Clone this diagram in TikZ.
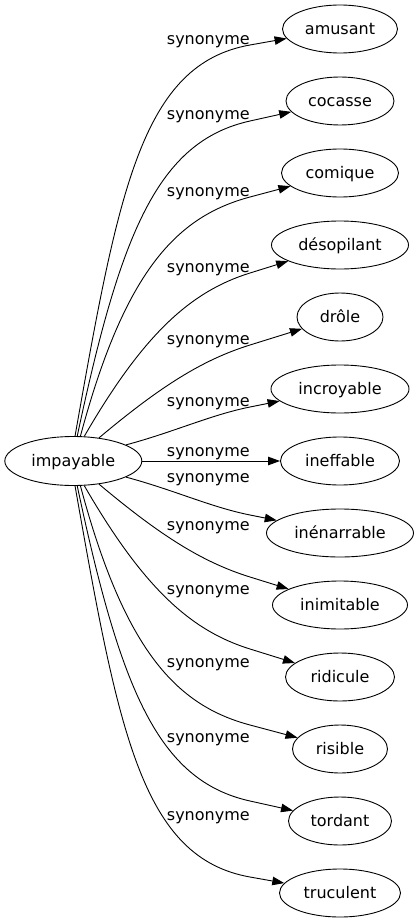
\documentclass[tikz,border=0pt]{standalone}
\usepackage{fontspec}
\setmainfont{DejaVu Sans}
\usetikzlibrary{shapes.geometric,arrows.meta,calc}
\newcommand\synedge[6]{%
  \coordinate (s) at (impayable.#2);
  \coordinate (m) at (250,#5);
  \coordinate (p1) at ($(s)+({#4*cos(#3)},{-#4*sin(#3)})$);
  \coordinate (p2) at ($(m)!-#6pt!(#1.center)$);
  \draw[edge] (s) .. controls (p1) and (p2) .. (m) -- (#1);
}
\begin{document}
\begin{tikzpicture}[x=1pt,y=-1pt,
  word/.style={draw=black, line width=0.9pt, ellipse, inner sep=0pt,
    minimum height=48pt, font=\fontsize{16pt}{19pt}\selectfont,
    text height=15pt, text depth=4pt},
  lbl/.style={anchor=base, inner sep=0pt, font=\fontsize{16pt}{19pt}\selectfont},
  edge/.style={draw=black, line width=0.9pt, -{Triangle[length=12pt,width=8.5pt]}}]
\useasboundingbox (0,0) rectangle (419,923);
\node[word, minimum width=137pt, minimum height=49pt] (impayable) at (73.3,461) {impayable};
\node[word, minimum width=115pt] (amusant) at (340,29) {amusant};
\node[word, minimum width=108pt] (cocasse) at (340,101) {cocasse};
\node[word, minimum width=117pt] (comique) at (340,173) {comique};
\node[word, minimum width=137pt] (desopilant) at (340,245) {désopilant};
\node[word, minimum width=86pt] (drole) at (340,317) {drôle};
\node[word, minimum width=138pt] (incroyable) at (340,389) {incroyable};
\node[word, minimum width=119pt] (ineffable) at (340,461) {ineffable};
\node[word, minimum width=147pt] (inenarrable) at (340,533) {inénarrable};
\node[word, minimum width=135pt] (inimitable) at (340,605) {inimitable};
\node[word, minimum width=109pt] (ridicule) at (340,677) {ridicule};
\node[word, minimum width=95pt] (risible) at (340,749) {risible};
\node[word, minimum width=103pt] (tordant) at (340,821) {tordant};
\node[word, minimum width=121pt] (truculent) at (340,893) {truculent};
% edges
\synedge{amusant}{86}{80}{250}{45}{110}
\synedge{cocasse}{81.4}{78}{209}{121}{94}
\synedge{comique}{74.6}{75}{171}{197}{76}
\synedge{desopilant}{66.1}{60}{120}{273}{61}
\synedge{drole}{42.8}{40}{80}{345}{50}
\synedge{incroyable}{17.3}{15}{50}{407}{40}
\draw[edge] (impayable) -- (ineffable);
\synedge{inenarrable}{-17.3}{-15}{50}{515}{40}
\synedge{inimitable}{-42.8}{-40}{80}{577}{50}
\synedge{ridicule}{-66.1}{-60}{120}{649}{61}
\synedge{risible}{-74.6}{-75}{171}{725}{76}
\synedge{tordant}{-81.4}{-78}{209}{801}{94}
\synedge{truculent}{-86}{-80}{250}{877}{110}
% labels
\node[lbl] (l1) at (208.3,44.4) {synonyme};
\node[lbl] (l2) at (208.3,119.4) {synonyme};
\node[lbl] (l3) at (208.3,196.4) {synonyme};
\node[lbl] (l4) at (208.3,272.4) {synonyme};
\node[lbl] (l5) at (208.3,344.4) {synonyme};
\node[lbl] (l6) at (208.3,406.4) {synonyme};
\node[lbl] (l7) at (208.3,456.4) {synonyme};
\node[lbl] (l8) at (208.3,482.4) {synonyme};
\node[lbl] (l9) at (208.3,530.4) {synonyme};
\node[lbl] (l10) at (208.3,594.4) {synonyme};
\node[lbl] (l11) at (208.3,667.4) {synonyme};
\node[lbl] (l12) at (208.3,742.4) {synonyme};
\node[lbl] (l13) at (208.3,820.4) {synonyme};
\end{tikzpicture}
\end{document}
